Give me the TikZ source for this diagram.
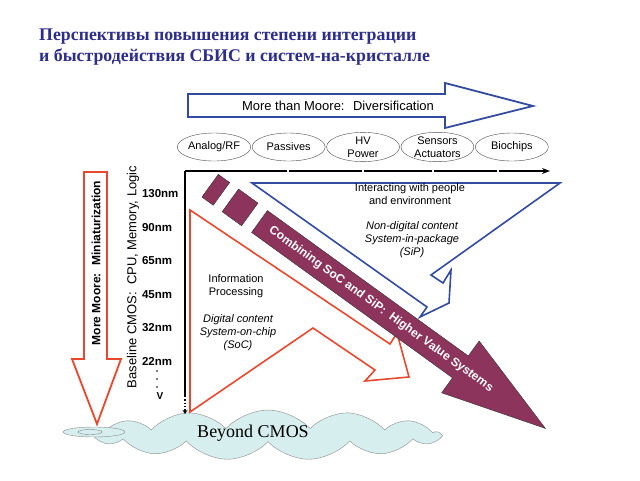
\documentclass[tikz,border=0pt]{standalone}
\usepackage{fontspec}
\setmainfont{Liberation Serif}
\setsansfont{Liberation Sans}
\usepackage{tikz}
\usetikzlibrary{shapes.geometric, shapes.symbols, arrows.meta, positioning}
\definecolor{titleblue}{RGB}{45,45,140}
\definecolor{moreblue}{RGB}{50,75,160}
\definecolor{morered}{RGB}{232,72,45}
\definecolor{plum}{RGB}{140,52,92}
\definecolor{cloudfill}{RGB}{214,238,238}
\tikzstyle{tech} = [ellipse, draw=black!70, fill=white, minimum width=73pt, minimum height=28pt, inner sep=0pt, align=center, font=\sffamily\fontsize{11}{13}\selectfont]
\tikzstyle{axis} = [line width=1.3pt, -{Stealth[length=8pt, width=6pt]}]

\begin{document}
\begin{tikzpicture}[
        x=1pt, y=-1pt,
        nm/.style={text width=40pt, align=left, inner sep=0pt, text height=9pt, text depth=0pt, font=\sffamily\bfseries\fontsize{11.5}{13}\selectfont},
        note/.style={align=center, inner sep=0pt, font=\sffamily\fontsize{11}{13}\selectfont},
        side/.style={rotate=90, inner sep=0pt, font=\sffamily\fontsize{13}{15}\selectfont},
        outline/.style={line width=1.8pt, line join=miter}
        ]

        \useasboundingbox (0,0) rectangle (640,480);

        \node[anchor=north west, align=left, inner sep=0pt, text=titleblue, font=\bfseries\fontsize{17.8}{21}\selectfont] (title) at (39,29) {Перспективы повышения степени интеграции\\и быстродействия СБИС и систем-на-кристалле};

        \draw[outline, moreblue, fill=white] (188,94) -- (445,94) -- (445,83) -- (533,106) -- (445,128) -- (445,117) -- (188,117) -- cycle;
        \node[inner sep=0pt, font=\sffamily\fontsize{13}{15}\selectfont] (diversification) at (338,106) {More than Moore:~ Diversification};

        \node[tech] (analog) at (214,147) {Analog/RF};
        \node[tech, right=1pt of analog] (passives) {Passives};
        \node[tech, right=1pt of passives] (hv_power) {HV\\Power};
        \node[tech, right=1pt of hv_power] (sensors) {Sensors\\Actuators};
        \node[tech, right=1pt of sensors] (biochips) {Biochips};

        \coordinate (origin) at (185,171);
        \coordinate (x_end) at (550,171);
        \coordinate (y_dots) at (185,396);
        \coordinate (y_end) at (185,414);

        \node[cloud, cloud puffs=13, cloud puff arc=95, cloud ignores aspect, draw=black!45, fill=cloudfill, minimum width=343pt, minimum height=50pt] (cloud) at (268,435) {};
        \draw[black!45, fill=cloudfill] (94,432) ellipse [x radius=31, y radius=5];
        \draw[black!45] (90,432) ellipse [x radius=12, y radius=2.5];
        \node[inner sep=0pt, font=\fontsize{18}{20}\selectfont] (beyond) at (253,433) {Beyond CMOS};

        \draw[axis] (origin) -- (x_end);
        \draw[white, line width=1.5pt] (288,169) -- (288,173) (363,169) -- (363,173) (433,169) -- (433,173) (498,169) -- (498,173);
        \draw[line width=1.3pt] (origin) -- (y_dots);
        \draw[line width=1.3pt, dotted, -{Stealth[length=4pt, width=5pt]}] (y_dots) -- (y_end);

        \draw[outline, morered, fill=white] (84,172) -- (107,172) -- (107,359) -- (121,359) -- (97,424) -- (72,359) -- (84,359) -- cycle;
        \node[side, font=\sffamily\bfseries\fontsize{12}{14}\selectfont] (more_moore) at (96,263) {More Moore:~ Miniaturization};

        \node[side] (baseline) at (133,277) {Baseline CMOS:~ CPU, Memory, Logic};
        \node[nm] (nm130) at (162,193) {130nm};
        \node[nm, below=24.2pt of nm130] (nm90) {90nm};
        \node[nm, below=24.2pt of nm90] (nm65) {65nm};
        \node[nm, below=24.2pt of nm65] (nm45) {45nm};
        \node[nm, below=24.2pt of nm45] (nm32) {32nm};
        \node[nm, below=24.2pt of nm32] (nm22) {22nm};
        \fill (157,371) circle (0.9) (157,379) circle (0.9) (157,387) circle (0.9);
        \node[inner sep=0pt, font=\sffamily\bfseries\fontsize{10}{12}\selectfont] (v_mark) at (160,396) {V};

        \draw[outline, morered, line width=1.6pt] (190,210) -- (390,344) -- (397,333) -- (409,377) -- (365,381) -- (375,370) -- (313,328) -- (190,412) -- cycle;
        \node[note] (info) at (236,286) {Information\\Processing};
        \node[note, font=\sffamily\itshape\fontsize{11}{13}\selectfont] (soc) at (238,333) {Digital content\\System-on-chip\\(SoC)};

        \begin{scope}[shift={(210.1,185.7)}, rotate=-35.9, transform shape]
            \draw[fill=plum, draw=black!80] (0,-14) rectangle (14,14);
            \draw[fill=plum, draw=black!80] (25,-14) rectangle (49,14);
            \draw[fill=plum, draw=black!80] (61,-13.5) -- (309,-13.5) -- (309,-32) -- (414,0) -- (309,32) -- (309,13.5) -- (61,13.5) -- cycle;
            \node[text=white, inner sep=0pt, font=\sffamily\bfseries\fontsize{12}{14}\selectfont] (combining) at (211,0) {Combining SoC and SiP:~ Higher Value Systems};
        \end{scope}

        \draw[outline, moreblue, line width=1.6pt] (252,183) -- (560,183) -- (431,275) -- (443,283) -- (451,270) -- (449,303) -- (420,317) -- (427,307) -- cycle;
        \node[note] (interact) at (410,194.5) {Interacting with people\\and environment};
        \node[note, font=\sffamily\itshape\fontsize{11}{13}\selectfont] (sip) at (412,240) {Non-digital content\\System-in-package\\(SiP)};

    \end{tikzpicture}
\end{document}
